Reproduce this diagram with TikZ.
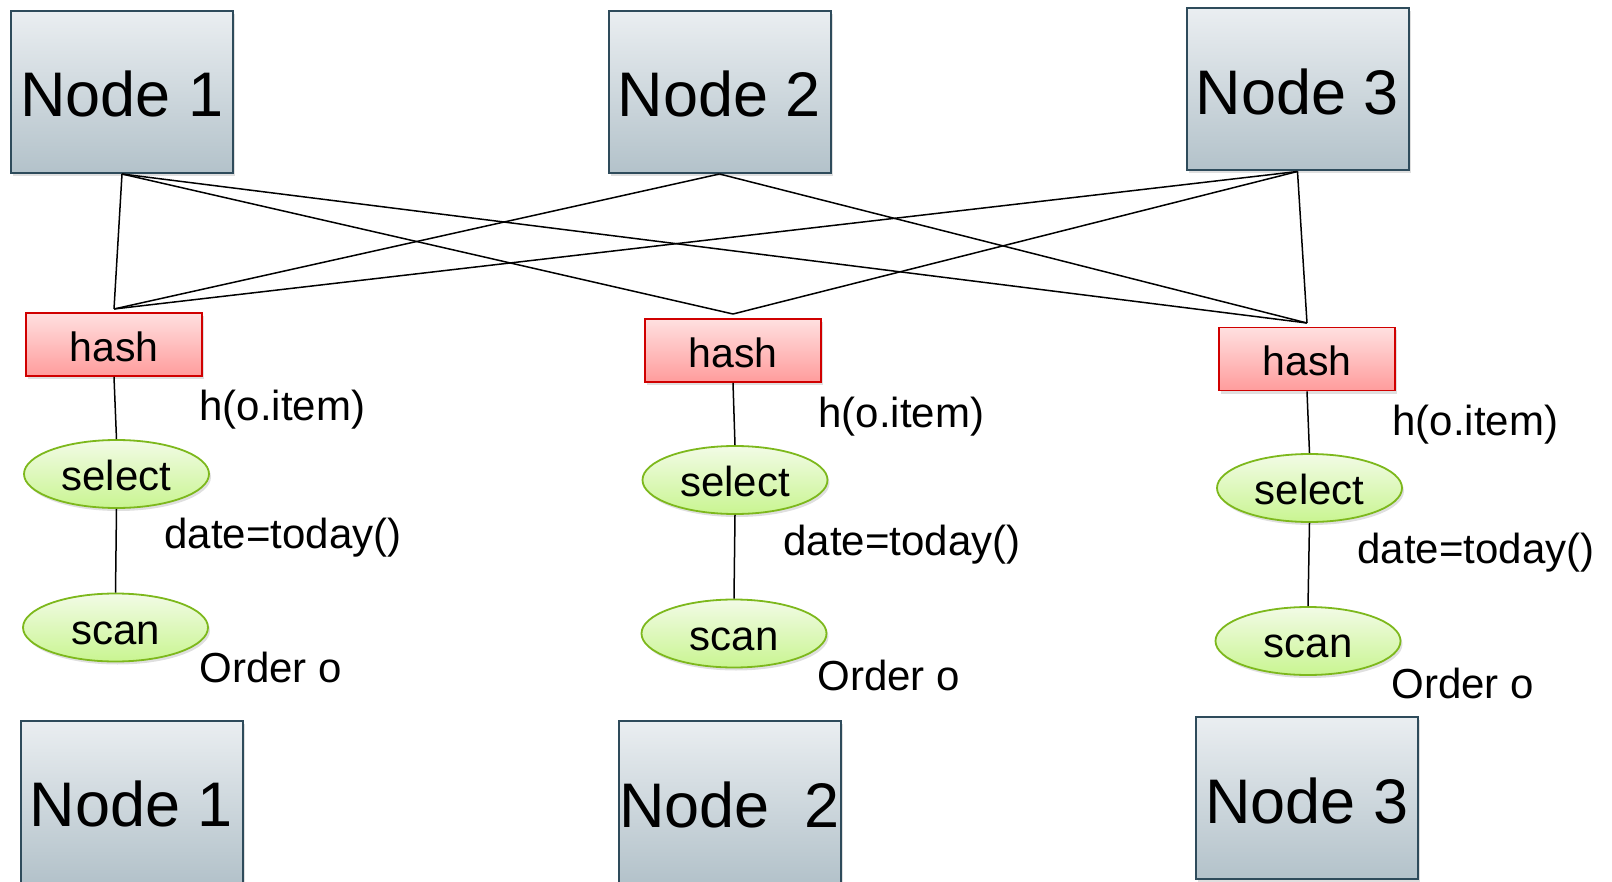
\documentclass[tikz,border=0pt]{standalone}
\usepackage{fontspec}
\setmainfont{Liberation Sans}
\usetikzlibrary{shapes.geometric,shadows}
\definecolor{nodetop}{HTML}{EAEEF1}
\definecolor{nodebot}{HTML}{B3C2CA}
\definecolor{nodeborder}{HTML}{2E4B5B}
\definecolor{hashtop}{HTML}{FFE0E0}
\definecolor{hashbot}{HTML}{FF9C9C}
\definecolor{hashborder}{HTML}{D00000}
\definecolor{elltop}{HTML}{F2FBE6}
\definecolor{ellbot}{HTML}{C9F591}
\definecolor{ellborder}{HTML}{7DB81C}
\tikzset{
  machine/.style={draw=nodeborder, line width=1pt, top color=nodetop, bottom color=nodebot,
    minimum width=111pt, minimum height=81pt, inner sep=0pt,
    text height=25pt, text depth=0pt,
    font=\fontsize{31.5}{37}\selectfont,
    drop shadow={opacity=0.25, shadow xshift=1.2pt, shadow yshift=-1.5pt}},
  hashbox/.style={draw=hashborder, line width=0.9pt, top color=hashtop, bottom color=hashbot,
    minimum width=88pt, minimum height=31.5pt, inner sep=0pt,
    text height=16.5pt, text depth=0pt,
    font=\fontsize{20.5}{24}\selectfont,
    drop shadow={opacity=0.25, shadow xshift=1pt, shadow yshift=-1.5pt}},
  opell/.style={ellipse, draw=ellborder, line width=0.9pt, top color=elltop, bottom color=ellbot,
    minimum width=92.5pt, minimum height=34pt, inner sep=0pt,
    text height=16.5pt, text depth=0pt,
    font=\fontsize{21}{25}\selectfont,
    drop shadow={opacity=0.25, shadow xshift=1pt, shadow yshift=-1.5pt}},
  lbl/.style={anchor=base west, inner sep=0pt, font=\fontsize{21}{25}\selectfont},
  wire/.style={draw=black, line width=0.75pt},
}
\begin{document}
\begin{tikzpicture}[x=0.5pt,y=-0.5pt]
\useasboundingbox (0,0) rectangle (1612,882);
\clip (0,0) rectangle (1612,882);
% top machines
\node[machine] (t1) at (122,92) {Node 1};
\node[machine] (t2) at (719.5,92) {Node 2};
\node[machine] (t3) at (1297.5,89.5) {Node 3};
% bottom machines
\node[machine] (b1) at (131.5,801.5) {Node 1};
\node[machine] (b2) at (729.5,802) {Node~~2};
\node[machine] (b3) at (1307,798) {Node 3};
% hash boxes
\node[hashbox] (h1) at (114,344.5) {hash};
\node[hashbox] (h2) at (733,350.5) {hash};
\node[hashbox] (h3) at (1307,359) {hash};
% junction points above hash boxes
\coordinate (j1) at (114,309);
\coordinate (j2) at (733,314);
\coordinate (j3) at (1307,323);
% select / scan
\node[opell] (s1) at (116.5,474) {select};
\node[opell] (s2) at (735,480) {select};
\node[opell] (s3) at (1309.5,488) {select};
\node[opell] (c1) at (115.5,627.5) {scan};
\node[opell] (c2) at (734,633.5) {scan};
\node[opell] (c3) at (1308,641) {scan};
% labels
\node[lbl] (l1a) at (199,420) {h(o.item)};
\node[lbl] (l2a) at (818,427) {h(o.item)};
\node[lbl] (l3a) at (1392,435) {h(o.item)};
\node[lbl] (l1b) at (164,548) {date=today()};
\node[lbl] (l2b) at (783,555) {date=today()};
\node[lbl] (l3b) at (1357,563) {date=today()};
\node[lbl] (l1c) at (199,682) {Order o};
\node[lbl] (l2c) at (817,690) {Order o};
\node[lbl] (l3c) at (1391,698) {Order o};
% shuffle wires
\draw[wire] (t1.south) -- (j1);
\draw[wire] (t1.south) -- (j2);
\draw[wire] (t1.south) -- (j3);
\draw[wire] (t2.south) -- (j1);
\draw[wire] (t2.south) -- (j3);
\draw[wire] (t3.south) -- (j1);
\draw[wire] (t3.south) -- (j2);
\draw[wire] (t3.south) -- (j3);
% plan edges
\draw[wire] (h1.south) -- (s1.north);
\draw[wire] (h2.south) -- (s2.north);
\draw[wire] (h3.south) -- (s3.north);
\draw[wire] (s1.south) -- (c1.north);
\draw[wire] (s2.south) -- (c2.north);
\draw[wire] (s3.south) -- (c3.north);
\end{tikzpicture}
\end{document}
